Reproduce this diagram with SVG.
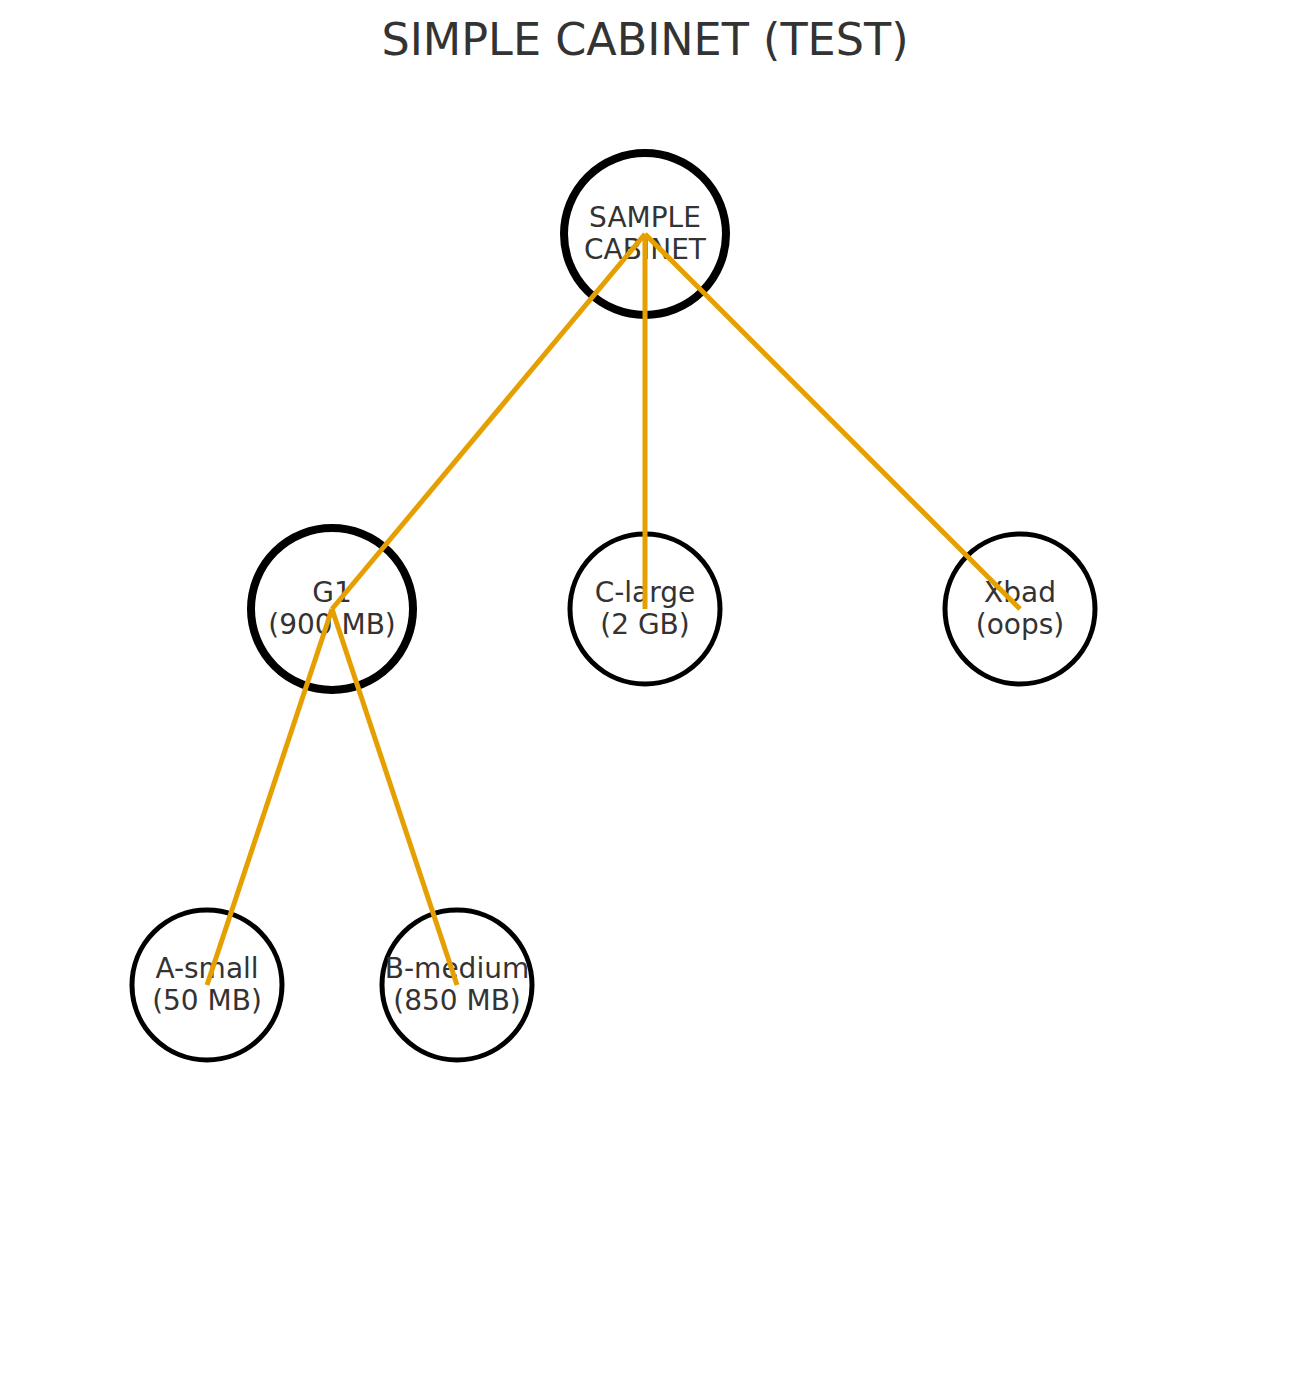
<svg xmlns="http://www.w3.org/2000/svg" width="1290" height="1380" viewBox="0 0 1290 1380">
<style>
.n{fill:#ffffff;stroke:#000000;stroke-width:5}
.b{stroke-width:8}
.t{font-family:"DejaVu Sans",sans-serif;font-size:28px;fill:#333333;text-anchor:middle}
.e{stroke:#E69F00;stroke-width:5;fill:none}
</style>
<rect width="1290" height="1380" fill="#ffffff"/>
<text x="645" y="55" font-family="DejaVu Sans, sans-serif" font-size="44.5" fill="#333333" text-anchor="middle">SIMPLE CABINET (TEST)</text>
<g id="root"><circle class="n b" cx="645" cy="234" r="81"/><text class="t" x="645" y="227">SAMPLE</text><text class="t" x="645" y="259">CABINET</text></g>
<g id="g1"><circle class="n b" cx="332" cy="609" r="81"/><text class="t" x="332" y="602">G1</text><text class="t" x="332" y="634">(900 MB)</text></g>
<g id="clarge"><circle class="n" cx="645" cy="609" r="75"/><text class="t" x="645" y="602">C-large</text><text class="t" x="645" y="634">(2 GB)</text></g>
<g id="xbad"><circle class="n" cx="1020" cy="609" r="75"/><text class="t" x="1020" y="602">Xbad</text><text class="t" x="1020" y="634">(oops)</text></g>
<g id="asmall"><circle class="n" cx="207" cy="985" r="75"/><text class="t" x="207" y="978">A-small</text><text class="t" x="207" y="1010">(50 MB)</text></g>
<g id="bmedium"><circle class="n" cx="457" cy="985" r="75"/><text class="t" x="457" y="978">B-medium</text><text class="t" x="457" y="1010">(850 MB)</text></g>
<g id="connectors">
<line class="e" x1="645" y1="234" x2="332" y2="609"/>
<line class="e" x1="645" y1="234" x2="645" y2="609"/>
<line class="e" x1="645" y1="234" x2="1020" y2="609"/>
<line class="e" x1="332" y1="609" x2="207" y2="985"/>
<line class="e" x1="332" y1="609" x2="457" y2="985"/>
</g>
</svg>
